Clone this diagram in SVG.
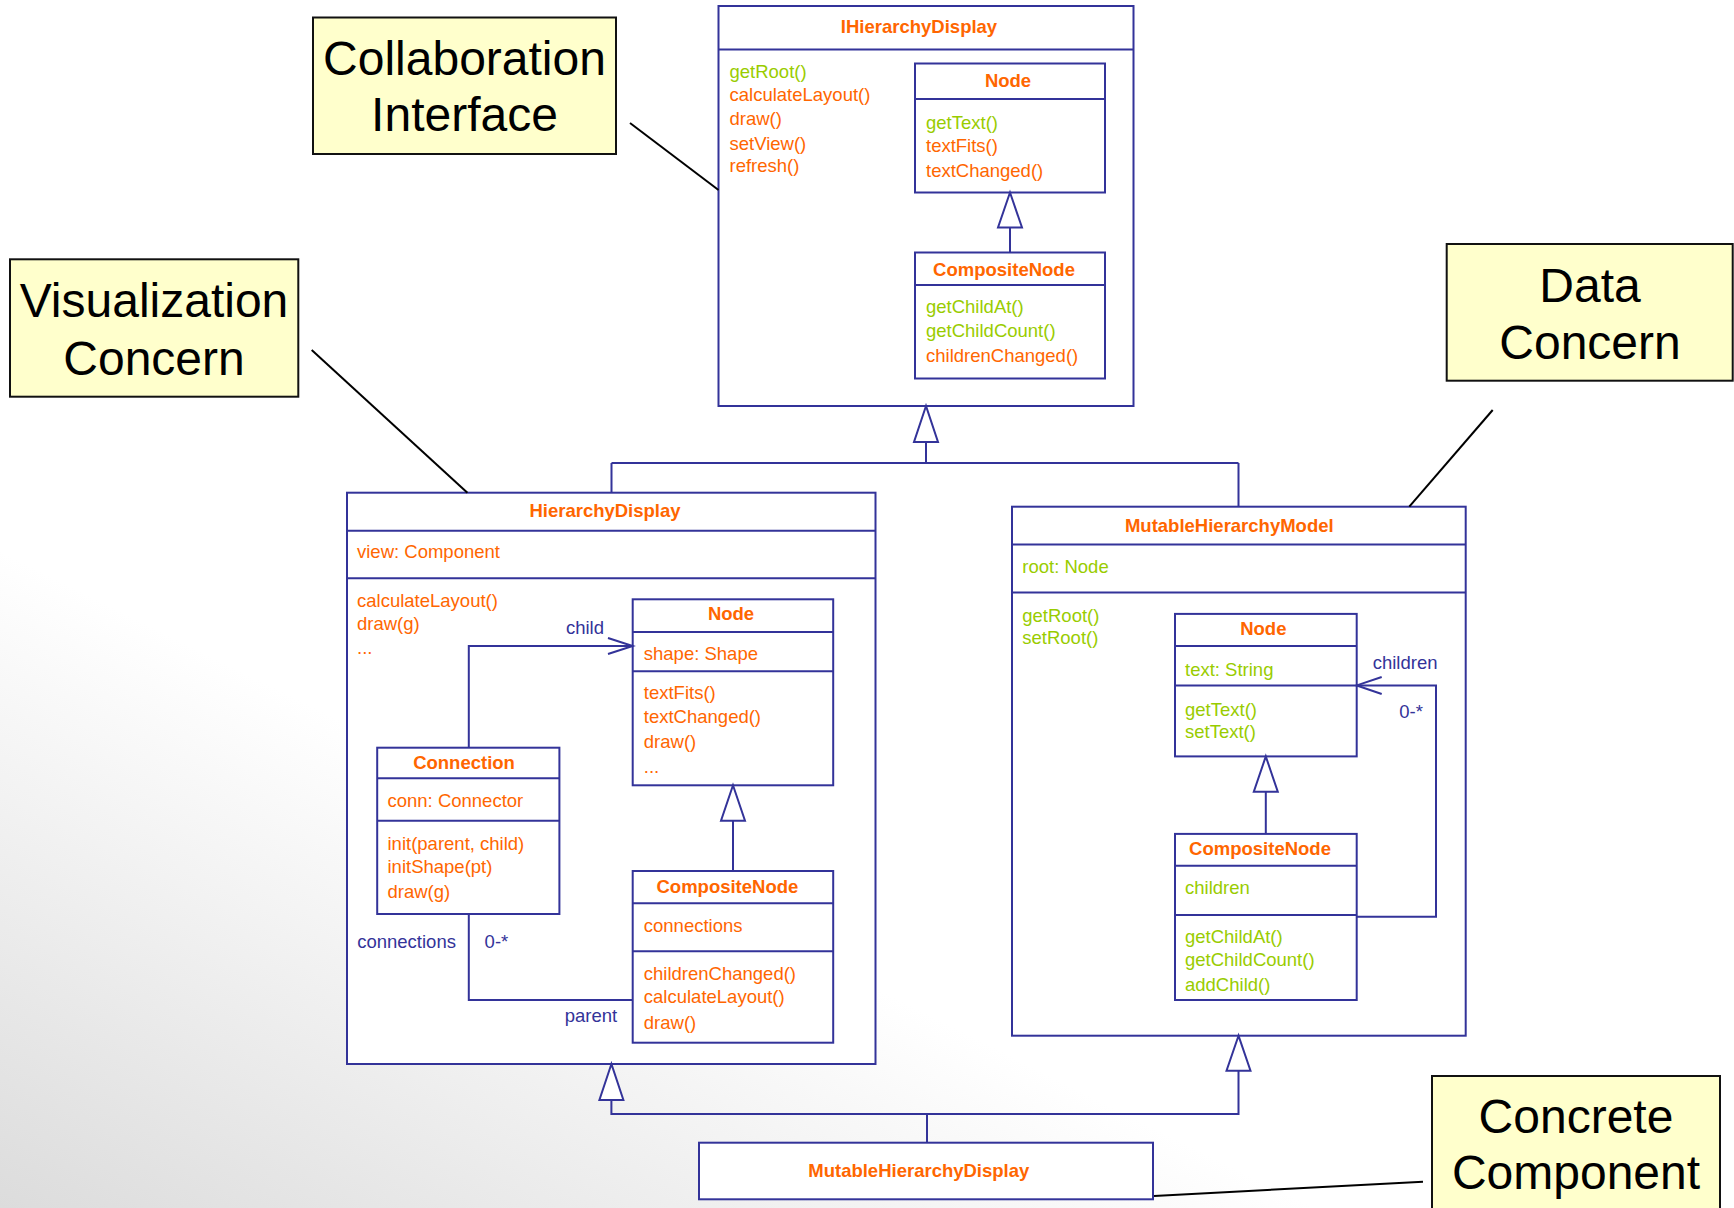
<svg xmlns="http://www.w3.org/2000/svg" width="1734" height="1208" viewBox="0 0 1734 1208">
  <defs>
    <linearGradient id="bg" gradientUnits="userSpaceOnUse" x1="0" y1="550" x2="-263" y2="1076">
      <stop offset="0" stop-color="#ffffff"/>
      <stop offset="1" stop-color="#dcdcdc"/>
    </linearGradient>
    <style>
      .t { font-family: "Liberation Sans", Arial, sans-serif; font-size: 18.5px; }
      .title { font-weight: bold; fill: #FF6600; text-anchor: middle; }
      .o { fill: #FF6600; }
      .g { fill: #99CC00; }
      .lbl { fill: #333399; }
      .box { fill: #ffffff; stroke: #333399; stroke-width: 2; }
      .sep { stroke: #333399; stroke-width: 2; fill: none; }
      .conn { fill: none; stroke: #333399; stroke-width: 2; }
      .tri { fill: #ffffff; stroke: #333399; stroke-width: 2; stroke-linejoin: miter; }
      .note { fill: #FFFFCC; stroke: #111111; stroke-width: 2; }
      .nt { font-family: "Liberation Sans", Arial, sans-serif; font-size: 48px; fill: #000000; text-anchor: middle; }
      .lead { stroke: #000000; stroke-width: 2; fill: none; }
    </style>
  </defs>

  <!-- background shading -->
  <rect x="0" y="0" width="1734" height="1208" fill="url(#bg)"/>

  <!-- interface container -->
  <g id="IHierarchyDisplay">
    <rect class="box" x="718.5" y="6" width="415" height="400"/>
    <line class="sep" x1="718.5" y1="49.5" x2="1133.5" y2="49.5"/>
    <text class="t title" x="919" y="33">IHierarchyDisplay</text>
    <text class="t g" x="729.5" y="78">getRoot()</text>
    <text class="t o" x="729.5" y="101">calculateLayout()</text>
    <text class="t o" x="729.5" y="125">draw()</text>
    <text class="t o" x="729.5" y="150">setView()</text>
    <text class="t o" x="729.5" y="172">refresh()</text>
  </g>

  <g id="IHD-Node">
    <rect class="box" x="915" y="63.5" width="190" height="129"/>
    <line class="sep" x1="915" y1="99" x2="1105" y2="99"/>
    <text class="t title" x="1008" y="87">Node</text>
    <text class="t g" x="926" y="128.5">getText()</text>
    <text class="t o" x="926" y="151.5">textFits()</text>
    <text class="t o" x="926" y="176.5">textChanged()</text>
  </g>

  <g id="IHD-CompositeNode">
    <rect class="box" x="915" y="252.5" width="190" height="126"/>
    <line class="sep" x1="915" y1="285" x2="1105" y2="285"/>
    <text class="t title" x="1004" y="276">CompositeNode</text>
    <text class="t g" x="926" y="313">getChildAt()</text>
    <text class="t g" x="926" y="336.5">getChildCount()</text>
    <text class="t o" x="926" y="361.5">childrenChanged()</text>
  </g>

  <!-- visualization container -->
  <g id="HierarchyDisplay">
    <rect class="box" x="347" y="492.7" width="528.5" height="571.3"/>
    <line class="sep" x1="347" y1="530.7" x2="875.5" y2="530.7"/>
    <line class="sep" x1="347" y1="578.3" x2="875.5" y2="578.3"/>
    <text class="t title" x="605" y="517.3">HierarchyDisplay</text>
    <text class="t o" x="357" y="558.3">view: Component</text>
    <text class="t o" x="357" y="606.7">calculateLayout()</text>
    <text class="t o" x="357" y="630">draw(g)</text>
    <text class="t o" x="357" y="654">...</text>
  </g>

  <g id="HD-Node">
    <rect class="box" x="632.7" y="599.3" width="200.5" height="186"/>
    <line class="sep" x1="632.7" y1="632" x2="833.2" y2="632"/>
    <line class="sep" x1="632.7" y1="671.3" x2="833.2" y2="671.3"/>
    <text class="t title" x="731" y="620">Node</text>
    <text class="t o" x="643.8" y="660">shape: Shape</text>
    <text class="t o" x="643.8" y="699.3">textFits()</text>
    <text class="t o" x="643.8" y="723.3">textChanged()</text>
    <text class="t o" x="643.8" y="747.7">draw()</text>
    <text class="t o" x="643.8" y="772.7">...</text>
  </g>

  <g id="HD-Connection">
    <rect class="box" x="377.2" y="747.7" width="182.2" height="166.3"/>
    <line class="sep" x1="377.2" y1="778.3" x2="559.4" y2="778.3"/>
    <line class="sep" x1="377.2" y1="820.7" x2="559.4" y2="820.7"/>
    <text class="t title" x="464" y="768.7">Connection</text>
    <text class="t o" x="387.5" y="807.3">conn: Connector</text>
    <text class="t o" x="387.5" y="850">init(parent, child)</text>
    <text class="t o" x="387.5" y="873.3">initShape(pt)</text>
    <text class="t o" x="387.5" y="898.3">draw(g)</text>
  </g>

  <g id="HD-CompositeNode">
    <rect class="box" x="632.7" y="871" width="200.5" height="171.7"/>
    <line class="sep" x1="632.7" y1="903.3" x2="833.2" y2="903.3"/>
    <line class="sep" x1="632.7" y1="951.3" x2="833.2" y2="951.3"/>
    <text class="t title" x="727.4" y="893.3">CompositeNode</text>
    <text class="t o" x="643.8" y="931.7">connections</text>
    <text class="t o" x="643.8" y="980">childrenChanged()</text>
    <text class="t o" x="643.8" y="1003.3">calculateLayout()</text>
    <text class="t o" x="643.8" y="1029.3">draw()</text>
  </g>

  <!-- data container -->
  <g id="MutableHierarchyModel">
    <rect class="box" x="1012" y="506.7" width="453.7" height="529"/>
    <line class="sep" x1="1012" y1="544.6" x2="1465.7" y2="544.6"/>
    <line class="sep" x1="1012" y1="592.5" x2="1465.7" y2="592.5"/>
    <text class="t title" x="1229.3" y="531.8">MutableHierarchyModel</text>
    <text class="t g" x="1022.3" y="572.9">root: Node</text>
    <text class="t g" x="1022.3" y="622.1">getRoot()</text>
    <text class="t g" x="1022.3" y="644.3">setRoot()</text>
  </g>

  <g id="MHM-Node">
    <rect class="box" x="1175" y="613.9" width="181.7" height="142.5"/>
    <line class="sep" x1="1175" y1="646.1" x2="1356.7" y2="646.1"/>
    <line class="sep" x1="1175" y1="685.4" x2="1356.7" y2="685.4"/>
    <text class="t title" x="1263.3" y="634.6">Node</text>
    <text class="t g" x="1185" y="675.7">text: String</text>
    <text class="t g" x="1185" y="715.7">getText()</text>
    <text class="t g" x="1185" y="738.2">setText()</text>
  </g>

  <g id="MHM-CompositeNode">
    <rect class="box" x="1175" y="833.9" width="181.7" height="166.1"/>
    <line class="sep" x1="1175" y1="865.7" x2="1356.7" y2="865.7"/>
    <line class="sep" x1="1175" y1="915" x2="1356.7" y2="915"/>
    <text class="t title" x="1260" y="855">CompositeNode</text>
    <text class="t g" x="1185" y="893.6">children</text>
    <text class="t g" x="1185" y="942.9">getChildAt()</text>
    <text class="t g" x="1185" y="966">getChildCount()</text>
    <text class="t g" x="1185" y="991">addChild()</text>
  </g>

  <!-- concrete component -->
  <g id="MutableHierarchyDisplay">
    <rect class="box" x="699" y="1142.7" width="454" height="56.6"/>
    <text class="t title" x="918.8" y="1176.7">MutableHierarchyDisplay</text>
  </g>

  <!-- annotation notes -->
  <g id="note-collaboration">
    <rect class="note" x="313" y="17.5" width="303" height="136.5"/>
    <text class="nt" x="464.5" y="75">Collaboration</text>
    <text class="nt" x="464.5" y="131">Interface</text>
  </g>

  <g id="note-visualization">
    <rect class="note" x="10" y="259.3" width="288.3" height="137.4"/>
    <text class="nt" x="154" y="317">Visualization</text>
    <text class="nt" x="154" y="375">Concern</text>
  </g>

  <g id="note-data">
    <rect class="note" x="1446.7" y="244" width="286" height="136.7"/>
    <text class="nt" x="1590" y="302">Data</text>
    <text class="nt" x="1590" y="359">Concern</text>
  </g>

  <g id="note-concrete">
    <rect class="note" x="1432" y="1076" width="288" height="145"/>
    <text class="nt" x="1576" y="1133">Concrete</text>
    <text class="nt" x="1576" y="1189">Component</text>
  </g>

  <!-- connectors -->
  <g id="connectors">
    <!-- generalization: containers to interface -->
    <path class="conn" d="M926 442 V463 M611.5 463 H1238.5 M611.5 463 V492.7 M1238.5 463 V506.7"/>
    <polygon class="tri" points="926,406 914,442 938,442"/>

    <!-- generalization inside interface -->
    <path class="conn" d="M1010 227.5 V252.5"/>
    <polygon class="tri" points="1010,192.5 998,227.5 1022,227.5"/>

    <!-- generalization inside visualization -->
    <path class="conn" d="M733 820.7 V871"/>
    <polygon class="tri" points="733,785.3 721,820.7 745,820.7"/>

    <!-- generalization inside data -->
    <path class="conn" d="M1265.8 791.8 V833.9"/>
    <polygon class="tri" points="1265.8,756.4 1253.8,791.8 1277.8,791.8"/>

    <!-- child association -->
    <path class="conn" d="M468.8 747.7 V646 H632.7"/>
    <path class="conn" d="M608 638 L632.7 646 L608 654"/>
    <text class="t lbl" x="585" y="634" text-anchor="middle">child</text>

    <!-- connections / parent association -->
    <path class="conn" d="M468.8 914 V1000 H632.7"/>
    <text class="t lbl" x="357.2" y="948.3">connections</text>
    <text class="t lbl" x="484.6" y="948.3">0-*</text>
    <text class="t lbl" x="617.2" y="1021.7" text-anchor="end">parent</text>

    <!-- children self association -->
    <path class="conn" d="M1356.7 916.8 H1436 V685.4 H1356.7"/>
    <path class="conn" d="M1381.7 677 L1356.7 685.4 L1381.7 694"/>
    <text class="t lbl" x="1372.7" y="668.6">children</text>
    <text class="t lbl" x="1399.3" y="717.5">0-*</text>

    <!-- generalization: concrete component to both containers -->
    <path class="conn" d="M611.4 1100 V1114 H1238.5 V1070.7 M927 1114 V1142.7"/>
    <polygon class="tri" points="611.4,1064 599.4,1100 623.4,1100"/>
    <polygon class="tri" points="1238.5,1035.7 1226.5,1070.7 1250.5,1070.7"/>

    <!-- note leader lines -->
    <line class="lead" x1="630" y1="123" x2="718.5" y2="190"/>
    <line class="lead" x1="311.7" y1="350" x2="467.4" y2="492.7"/>
    <line class="lead" x1="1492.7" y1="410" x2="1409.3" y2="506.7"/>
    <line class="lead" x1="1154" y1="1196" x2="1423" y2="1181.7"/>
  </g>
</svg>
